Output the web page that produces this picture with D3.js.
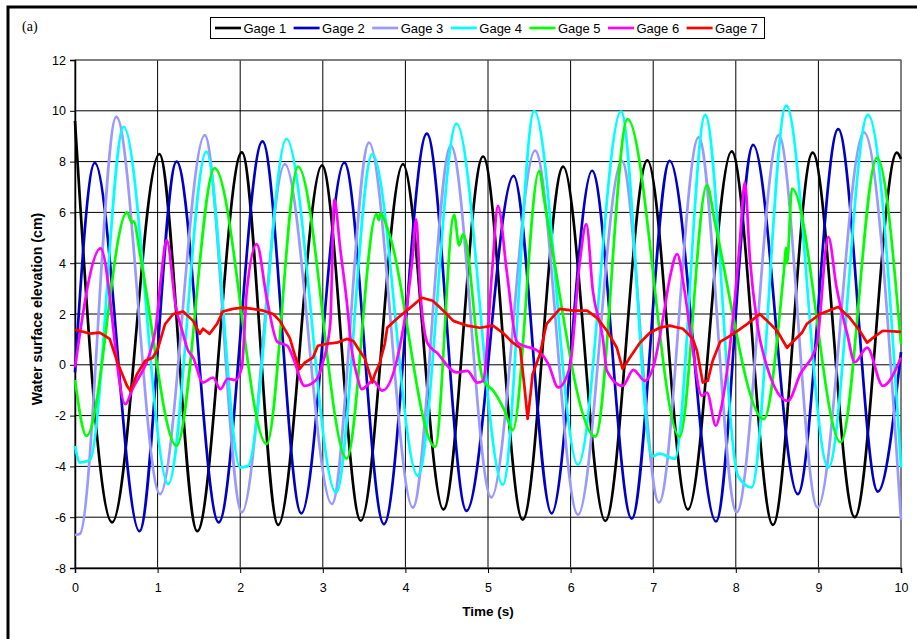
<!DOCTYPE html>
<html><head><meta charset="utf-8">
<script src="https://cdn.jsdelivr.net/npm/d3@7"></script>
<style>body{margin:0;background:#fff}svg{display:block}</style>
</head><body>
<svg id="c" width="917" height="639"></svg>
<script>
// ---- data (time s, elevation cm) ----
const seriesNames = ["Gage 1","Gage 2","Gage 3","Gage 4","Gage 5","Gage 6","Gage 7"];
const seriesColors = ["#000000","#0000C8","#9999FF","#00FFFF","#00FF00","#FF00FF","#FF0000"];
const xTicks = [0,1,2,3,4,5,6,7,8,9,10];
const yTicks = [-8,-6,-4,-2,0,2,4,6,8,10,12];

const gage1 = [[0,9.6],[0.45,-6.2],[1.02,8.3],[1.48,-6.55],[2.02,8.36],[2.46,-6.3],[2.99,7.85],[3.46,-6.14],[3.97,7.9],[4.46,-5.7],[4.94,8.2],[5.42,-6.1],[5.91,7.8],[6.42,-6.15],[6.93,8.05],[7.42,-5.7],[7.95,8.4],[8.45,-6.3],[8.93,8.35],[9.44,-6.0],[9.95,8.35],[10,8.1]];
const gage2 = [[0,-0.3],[0.24,7.95],[0.78,-6.55],[1.23,8.0],[1.74,-6.2],[2.27,8.8],[2.74,-5.85],[3.26,7.96],[3.74,-6.27],[4.26,9.1],[4.74,-5.75],[5.31,7.44],[5.77,-5.85],[6.26,7.64],[6.74,-6.06],[7.2,8.03],[7.76,-6.17],[8.21,8.66],[8.75,-5.09],[9.24,9.28],[9.72,-4.99],[10,0.5]];
const gage3 = [[0,-6.7],[0.06,-6.65],[0.5,9.76],[1.03,-5.09],[1.57,9.04],[2.02,-5.81],[2.54,7.9],[3.11,-5.48],[3.56,8.75],[4.09,-5.62],[4.55,8.62],[5.04,-5.22],[5.57,8.43],[6.09,-5.9],[6.62,8.03],[7.07,-5.42],[7.55,8.95],[8.01,-5.81],[8.52,9.04],[8.99,-5.62],[9.55,9.15],[10,-6.1]];
const gage4 = [[0,-3.2],[0.06,-3.85],[0.18,-3.75],[0.59,9.37],[1.13,-4.7],[1.59,8.39],[2.0,-4.04],[2.09,-4.0],[2.56,8.9],[3.16,-5.03],[3.6,8.3],[4.15,-4.37],[4.62,9.5],[5.18,-4.72],[5.56,10.0],[6.09,-3.94],[6.61,9.98],[6.99,-3.6],[7.08,-3.5],[7.26,-3.7],[7.63,9.84],[8.03,-4.4],[8.19,-4.83],[8.61,10.2],[9.12,-4.04],[9.6,9.84],[10,-4.04]];
const gage5 = [[0,-0.6],[0.14,-2.8],[0.63,6.0],[0.69,5.6],[0.71,5.65],[0.79,4.3],[1.23,-3.19],[1.69,7.74],[2.32,-3.12],[2.7,7.8],[3.29,-3.69],[3.65,5.93],[3.68,5.7],[3.7,5.96],[3.79,5.3],[4.36,-3.23],[4.59,5.9],[4.65,4.7],[4.7,5.15],[4.94,-0.6],[5.06,-1.0],[5.2,-1.8],[5.3,-2.57],[5.62,7.64],[5.68,6.5],[6.3,-2.83],[6.69,9.67],[7.32,-2.83],[7.65,7.07],[7.75,5.55],[8.34,-2.14],[8.58,3.6],[8.61,4.6],[8.62,4.0],[8.68,6.94],[9.27,-3.05],[9.71,8.16],[10,0.8]];
const gage6 = [[0,-0.1],[0.31,4.58],[0.61,-1.55],[0.69,-1.0],[0.97,1.3],[1.04,3.4],[1.11,4.91],[1.22,2.3],[1.31,1.2],[1.36,0.63],[1.43,0.28],[1.55,-0.7],[1.67,-0.5],[1.76,-0.96],[1.85,-0.55],[1.94,-0.6],[2.02,-0.1],[2.08,2.9],[2.2,4.75],[2.32,2.65],[2.45,0.9],[2.57,0.75],[2.64,0.28],[2.78,-0.83],[2.91,-0.63],[3.0,0.08],[3.09,1.6],[3.14,6.5],[3.21,4.6],[3.29,2.5],[3.35,0.6],[3.42,-0.5],[3.47,-0.96],[3.61,-0.63],[3.72,-1.02],[3.93,0.67],[4.02,2.4],[4.08,4.0],[4.13,5.73],[4.18,2.9],[4.27,0.83],[4.38,0.48],[4.62,-0.3],[4.75,-0.24],[4.87,-0.7],[4.94,-0.63],[5.05,3.7],[5.12,6.26],[5.23,3.6],[5.35,0.9],[5.63,0.48],[5.73,0.04],[5.85,-0.89],[5.99,-0.1],[6.11,4.0],[6.19,5.54],[6.27,2.9],[6.39,1.06],[6.44,-0.24],[6.63,-0.83],[6.76,-0.2],[6.9,-0.63],[7.0,-0.1],[7.12,1.85],[7.2,3.4],[7.29,4.36],[7.38,2.9],[7.47,0.82],[7.59,-1.22],[7.65,-1.09],[7.76,-2.4],[7.81,-1.9],[7.99,2.65],[8.05,4.9],[8.11,7.18],[8.17,4.2],[8.26,1.6],[8.38,-0.1],[8.63,-1.42],[8.78,-0.37],[8.98,0.8],[9.12,5.04],[9.22,3.04],[9.35,1.2],[9.44,0.1],[9.59,0.68],[9.78,-0.83],[10,0.29]];
const gage7 = [[0,1.38],[0.18,1.23],[0.3,1.27],[0.42,1.02],[0.52,0.04],[0.63,-0.83],[0.67,-1.02],[0.75,-0.37],[0.85,0.16],[0.94,0.28],[1.0,0.6],[1.09,1.6],[1.19,2.0],[1.31,2.1],[1.43,1.73],[1.51,1.22],[1.55,1.42],[1.63,1.22],[1.72,1.61],[1.79,2.1],[1.91,2.2],[2.03,2.25],[2.15,2.2],[2.28,2.13],[2.4,2.0],[2.48,1.73],[2.6,1.06],[2.66,0.4],[2.72,-0.16],[2.78,0.08],[2.88,0.28],[2.94,0.75],[3.05,0.83],[3.17,0.87],[3.29,1.02],[3.37,0.94],[3.43,0.63],[3.51,0.24],[3.6,-0.7],[3.63,-0.37],[3.69,0.08],[3.75,0.82],[3.78,1.46],[3.91,1.85],[4.06,2.25],[4.2,2.64],[4.33,2.52],[4.46,2.13],[4.58,1.73],[4.75,1.54],[4.9,1.46],[5.06,1.54],[5.18,1.26],[5.3,0.87],[5.39,0.67],[5.45,-1.14],[5.48,-2.13],[5.51,-1.3],[5.54,-0.37],[5.63,0.43],[5.69,1.34],[5.71,1.61],[5.87,2.2],[6.03,2.13],[6.2,2.13],[6.32,1.85],[6.44,1.34],[6.56,0.67],[6.63,-0.16],[6.72,0.3],[6.84,0.87],[6.96,1.26],[7.08,1.46],[7.2,1.54],[7.36,1.42],[7.48,1.02],[7.53,0.55],[7.6,-0.7],[7.66,-0.63],[7.72,0.16],[7.81,0.9],[7.97,1.22],[8.14,1.61],[8.29,2.0],[8.38,1.73],[8.5,1.34],[8.62,0.67],[8.7,0.94],[8.8,1.26],[8.86,1.61],[9.02,2.0],[9.24,2.28],[9.38,1.85],[9.5,1.34],[9.59,0.87],[9.66,1.06],[9.78,1.34],[10,1.3]];
const allSeries = [gage1,gage2,gage3,gage4,gage5,gage6,gage7];

// ---- layout ----
const svg = d3.select("#c");
const font = "Arial, 'Liberation Sans', sans-serif";
const x = d3.scaleLinear().domain([0,10]).range([75,901]);
const y = d3.scaleLinear().domain([-8,12]).range([568,60]);

// outer frame (only top/left visible)
svg.append("rect").attr("x",8).attr("y",7).attr("width",930).attr("height",660)
  .attr("fill","#fff").attr("stroke","#000").attr("stroke-width",3);

// grid
const grid = svg.append("g");
grid.selectAll("line.h").data(yTicks).join("line")
  .attr("x1",75).attr("x2",901).attr("y1",d=>y(d)).attr("y2",d=>y(d))
  .attr("stroke","#000").attr("stroke-width",1);
grid.selectAll("line.v").data(xTicks).join("line")
  .attr("y1",60).attr("y2",568).attr("x1",d=>x(d)).attr("x2",d=>x(d))
  .attr("stroke","#000").attr("stroke-width",1);
svg.append("rect").attr("x",75).attr("y",60).attr("width",826).attr("height",508)
  .attr("fill","none").attr("stroke","#808080").attr("stroke-width",1);

// axes
const yAxis = d3.axisLeft(y).tickValues(yTicks).tickSize(5).tickPadding(4).tickFormat(d3.format("d"));
const gy = svg.append("g").attr("transform","translate(75,0)").call(yAxis);
const xAxis = d3.axisBottom(x).tickValues(xTicks).tickSize(5).tickPadding(10).tickFormat(d3.format("d"));
const gx = svg.append("g").attr("transform","translate(0,568)").call(xAxis);
[gx,gy].forEach(g=>{
  g.selectAll("path.domain").attr("stroke","#000").attr("stroke-width",1.5);
  g.selectAll(".tick line").attr("stroke","#000");
  g.selectAll("text").attr("font-family",font).attr("font-size",12.5).attr("fill","#000");
});
gy.selectAll("text").text(d=>d<0?"-"+Math.abs(d):d);

// series
const line = d3.line().x(d=>x(d[0])).y(d=>y(d[1]));
allSeries.forEach((s,i)=>{
  svg.append("path").datum(s)
    .attr("d", line.curve(i===6?d3.curveLinear:d3.curveMonotoneX)(s))
    .attr("fill","none").attr("stroke",seriesColors[i]).attr("stroke-width",2.7)
    .attr("stroke-linejoin","round");
});

// titles
svg.append("text").attr("x",488).attr("y",616).attr("text-anchor","middle")
  .attr("font-family",font).attr("font-size",13.5).attr("font-weight","bold").text("Time (s)");
svg.append("text").attr("transform","translate(41.5,309) rotate(-90)").attr("text-anchor","middle")
  .attr("font-family",font).attr("font-size",14.2).attr("font-weight","bold").text("Water surface elevation (cm)");
svg.append("text").attr("x",22).attr("y",31).attr("font-family","'Times New Roman','Liberation Serif',serif")
  .attr("font-size",14).text("(a)");

// legend
const lg = svg.append("g");
lg.append("rect").attr("x",210.5).attr("y",17.5).attr("width",554).attr("height",21)
  .attr("fill","#fff").attr("stroke","#000").attr("stroke-width",1);
seriesNames.forEach((n,i)=>{
  const x0 = 215 + i*78.6;
  lg.append("line").attr("x1",x0).attr("x2",x0+26).attr("y1",28).attr("y2",28)
    .attr("stroke",seriesColors[i]).attr("stroke-width",2.7);
  lg.append("text").attr("x",x0+28.5).attr("y",32.5).attr("font-family",font)
    .attr("font-size",13).text(n);
});
</script>
</body></html>
